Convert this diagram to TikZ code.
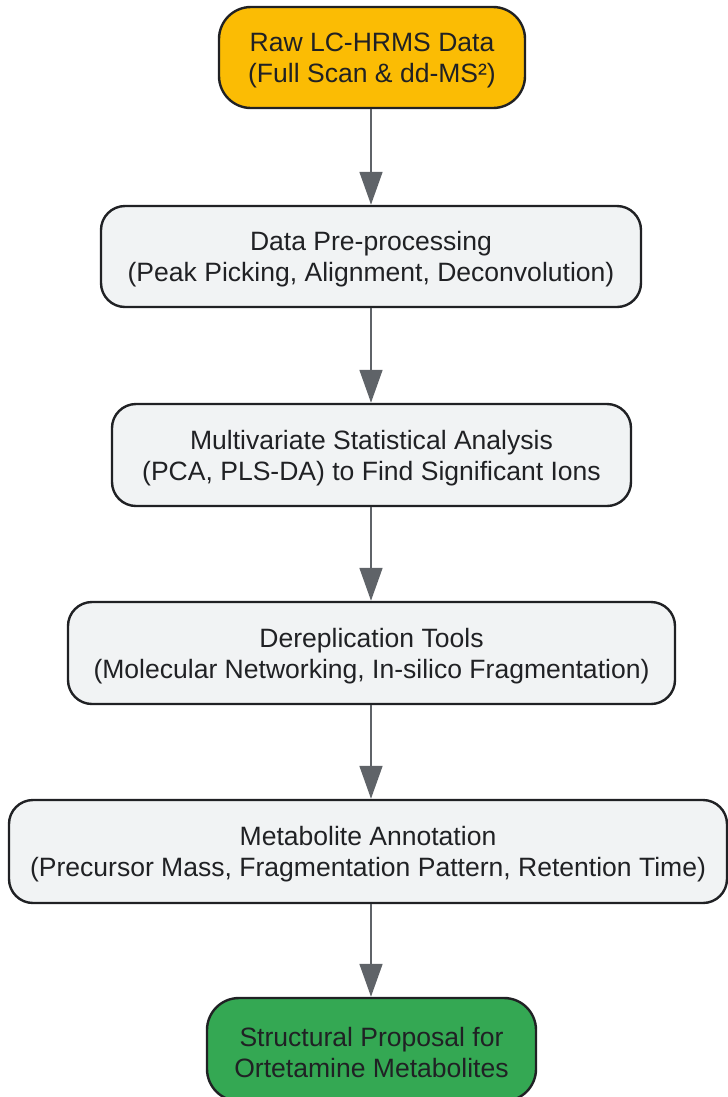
\documentclass[tikz,border=0pt]{standalone}
\usepackage{fontspec}
\setmainfont{Liberation Sans}
\usetikzlibrary{arrows.meta}
\definecolor{orangefill}{HTML}{FBBC04}
\definecolor{greenfill}{HTML}{34A853}
\definecolor{grayfill}{HTML}{F1F3F4}
\definecolor{borderc}{HTML}{202124}
\definecolor{arrowc}{HTML}{5F6368}
\tikzset{
  box/.style={draw=borderc, line width=1.8pt, rounded corners=18pt, fill=grayfill,
    inner sep=0pt},
  pill/.style={box, rounded corners=24pt},
  txt/.style={align=center, inner sep=0pt, text=borderc,
    font=\fontsize{19.9pt}{23.25pt}\selectfont},
  conn/.style={draw=arrowc, line width=2.1pt, -{Triangle[length=24.75pt,width=17pt]}},
}
\newcommand{\boxtext}[2]{\node[txt] (#1t) at ([yshift=-2.3pt]#1.center) {#2};}
\begin{document}
\begin{tikzpicture}[x=0.75pt,y=-0.75pt]
\useasboundingbox (0,0) rectangle (728,1097);
\node[pill, fill=orangefill, minimum width=306*0.75pt, minimum height=101*0.75pt] (raw) at (372,57.5) {};
\node[box, minimum width=540*0.75pt, minimum height=101*0.75pt] (pre) at (371,256.5) {};
\node[box, minimum width=519*0.75pt, minimum height=102*0.75pt] (mva) at (371.5,455) {};
\node[box, minimum width=607*0.75pt, minimum height=102*0.75pt] (derep) at (371.5,653) {};
\node[box, minimum width=718*0.75pt, minimum height=103*0.75pt] (annot) at (368,851.5) {};
\node[pill, fill=greenfill, minimum width=329*0.75pt, minimum height=103*0.75pt] (prop) at (371.5,1049.5) {};
\boxtext{raw}{Raw LC-HRMS Data\\(Full Scan \& dd-MS²)}
\boxtext{pre}{Data Pre-processing\\(Peak Picking, Alignment, Deconvolution)}
\boxtext{mva}{Multivariate Statistical Analysis\\(PCA, PLS-DA) to Find Significant Ions}
\boxtext{derep}{Dereplication Tools\\(Molecular Networking, In-silico Fragmentation)}
\boxtext{annot}{Metabolite Annotation\\(Precursor Mass, Fragmentation Pattern, Retention Time)}
\boxtext{prop}{Structural Proposal for\\Ortetamine Metabolites}
\draw[conn] (raw.south -| 371,0) -- (pre.north -| 371,0);
\draw[conn] (pre.south -| 371,0) -- (mva.north -| 371,0);
\draw[conn] (mva.south -| 371,0) -- (derep.north -| 371,0);
\draw[conn] (derep.south -| 371,0) -- (annot.north -| 371,0);
\draw[conn] (annot.south -| 371,0) -- (prop.north -| 371,0);
\end{tikzpicture}
\end{document}
